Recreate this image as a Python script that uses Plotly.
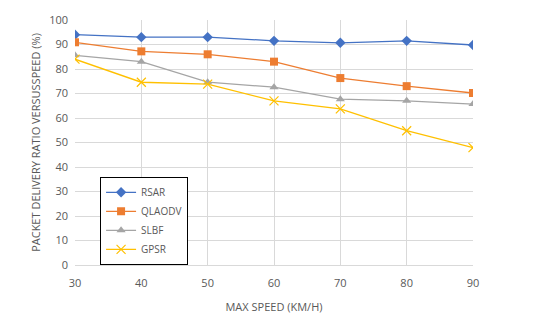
import plotly.graph_objects as go

speeds = [30, 40, 50, 60, 70, 80, 90]
rsar = [94, 93, 93, 91.5, 90.7, 91.5, 89.8]
qlaodv = [90.9, 87.2, 86, 83, 76.3, 73, 70.2]
slbf = [85.6, 83, 74.6, 72.6, 67.7, 67, 65.7]
gpsr = [84, 74.6, 73.8, 67, 63.7, 54.8, 47.9]

series = [
    ("RSAR", rsar, "#4472C4", "diamond", 8),
    ("QLAODV", qlaodv, "#ED7D31", "square", 8),
    ("SLBF", slbf, "#A5A5A5", "triangle-up", 8),
    ("GPSR", gpsr, "#FFC000", "x-thin-open", 9),
]

fig = go.Figure()
for name, vals, color, sym, size in series:
    marker = dict(symbol=sym, size=size, color=color)
    if sym == "x-thin-open":
        marker["line"] = dict(color=color, width=1.2)
    fig.add_trace(go.Scatter(x=speeds, y=vals, name=name, mode="lines+markers",
                             line=dict(color=color, width=1.3), marker=marker))

font = "Open Sans, Liberation Sans, sans-serif"
fig.update_layout(
    width=538, height=328,
    margin=dict(l=75, r=65, t=18, b=63),
    paper_bgcolor="white", plot_bgcolor="white",
    font=dict(family=font, size=11, color="#595959"),
    legend=dict(x=0.063, y=0.36, xanchor="left", yanchor="top",
                bordercolor="black", borderwidth=1, bgcolor="white",
                font=dict(size=10, color="#595959"), tracegroupgap=0,
                itemwidth=30),
    xaxis=dict(range=[30, 90], tickvals=speeds, ticktext=[str(s) for s in speeds],
               showgrid=True, gridcolor="#D9D9D9", gridwidth=1, zeroline=False,
               ticks="", ticklabelstandoff=8,
               title=dict(text="MAX SPEED (KM/H)", font=dict(size=11), standoff=14),
               tickfont=dict(size=11), showline=True, linecolor="#D9D9D9"),
    yaxis=dict(range=[0, 100], dtick=10, showgrid=True, gridcolor="#D9D9D9",
               zeroline=False, ticks="", tickfont=dict(size=11), ticklabelstandoff=6,
               title=dict(text="PACKET DELIVERY RATIO VERSUSSPEED (%)", font=dict(size=11), standoff=6)),
)

fig.write_html("out.html")
